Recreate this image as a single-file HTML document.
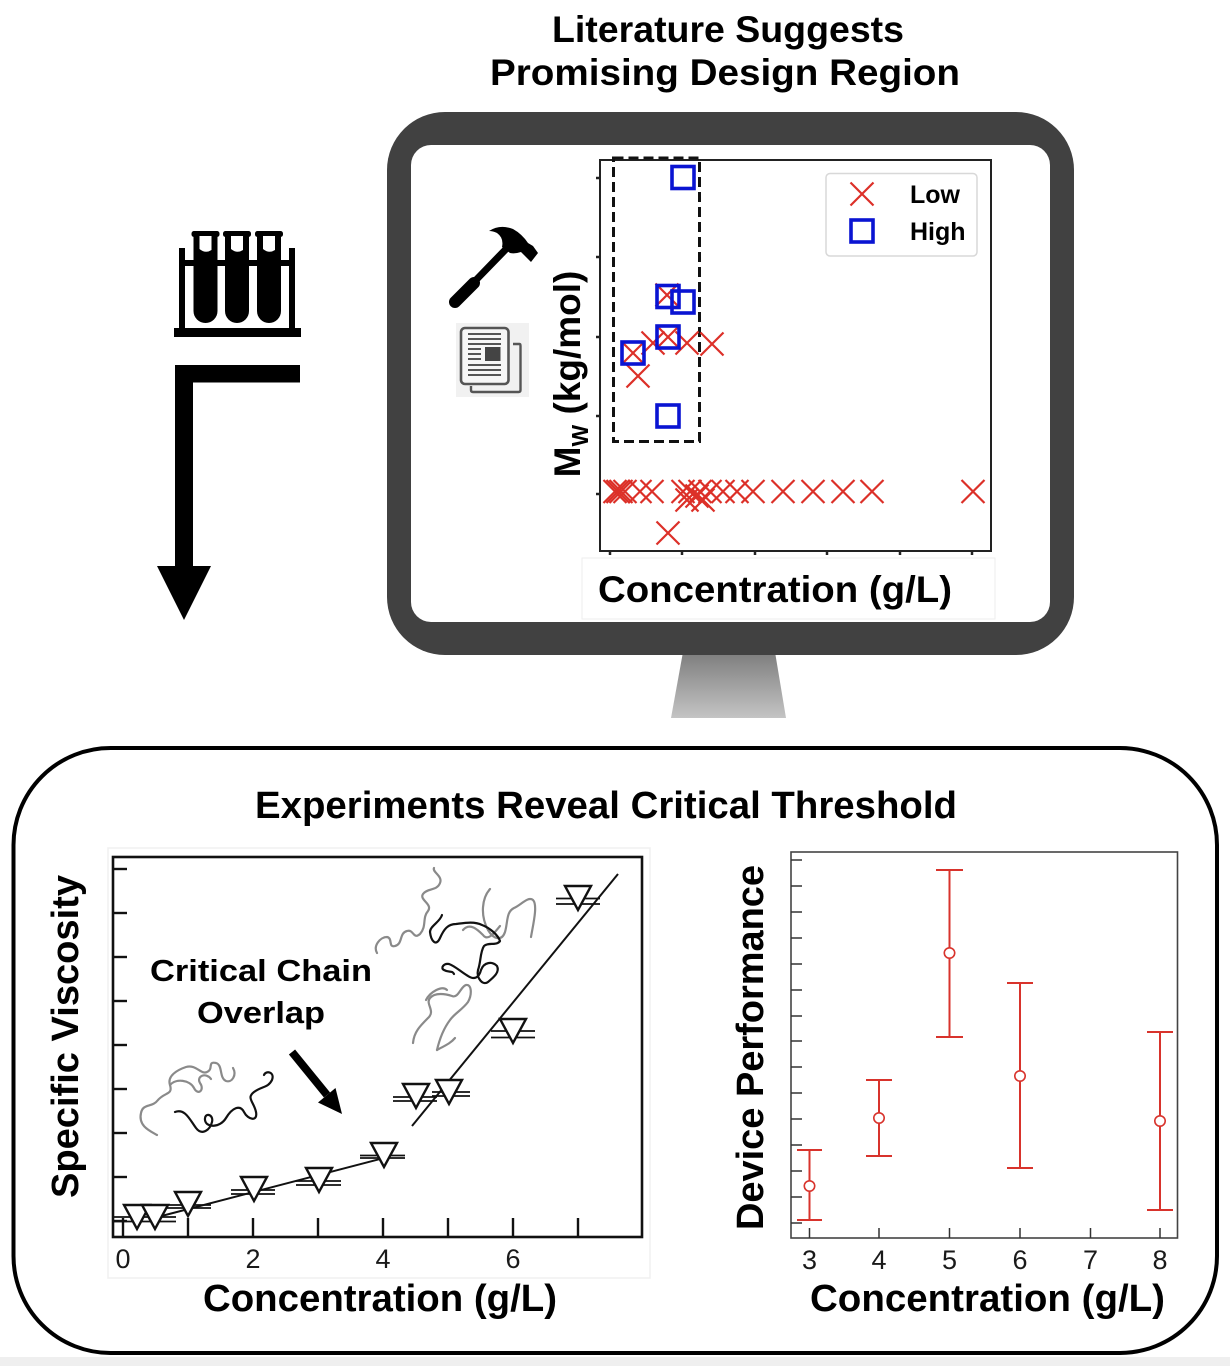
<!DOCTYPE html>
<html>
<head>
<meta charset="utf-8">
<style>
  html,body{margin:0;padding:0;background:#fff;}
  svg{display:block;}
  text{font-family:"Liberation Sans", Arial, sans-serif;}
</style>
</head>
<body>
<svg width="1230" height="1366" viewBox="0 0 1230 1366" xmlns="http://www.w3.org/2000/svg">
  <defs>
    <linearGradient id="stand" x1="0" y1="0" x2="0" y2="1">
      <stop offset="0" stop-color="#7d7d7d"/>
      <stop offset="1" stop-color="#c4c4c4"/>
    </linearGradient>
    <g id="x"><path d="M-11.5,-11.5 L11.5,11.5 M-11.5,11.5 L11.5,-11.5" stroke="#dc3028" stroke-width="2.2" fill="none"/></g>
    <g id="sq"><rect x="-11" y="-11" width="22" height="22" stroke="#0a14d2" stroke-width="3.6" fill="none"/></g>
    <g id="tri"><path d="M-13,-11 L13,-11 L0,13 Z" fill="#fff" stroke="#111" stroke-width="2.4" stroke-linejoin="miter"/></g>
  </defs>

  <!-- bottom gray strip -->
  <rect x="0" y="1357" width="1230" height="9" fill="#efefef"/>

  <!-- ===== Top titles ===== -->
  <text x="728" y="42" font-size="37" font-weight="bold" text-anchor="middle" textLength="352" lengthAdjust="spacingAndGlyphs">Literature Suggests</text>
  <text x="725" y="85" font-size="37" font-weight="bold" text-anchor="middle" textLength="470" lengthAdjust="spacingAndGlyphs">Promising Design Region</text>

  <!-- ===== Test tube rack ===== -->
  <g fill="#000">
    <rect x="174" y="328" width="127" height="9"/>
    <rect x="179" y="248" width="6" height="82"/>
    <rect x="289" y="248" width="6" height="82"/>
    <rect x="179" y="260" width="116" height="6"/>
    <g>
      <rect x="191.5" y="231" width="28" height="6" rx="2.5"/>
      <path d="M193.5,236 L217.5,236 L217.5,311 A12,12 0 0 1 193.5,311 Z"/>
      <path d="M199.5,236 L211.5,236 L211.5,250 Q205.5,254 199.5,249 Z" fill="#fff"/>
    </g>
    <g>
      <rect x="223" y="231" width="28" height="6" rx="2.5"/>
      <path d="M225,236 L249,236 L249,311 A12,12 0 0 1 225,311 Z"/>
      <path d="M231,236 L243,236 L243,250 Q237,254 231,249 Z" fill="#fff"/>
    </g>
    <g>
      <rect x="255" y="231" width="28" height="6" rx="2.5"/>
      <path d="M257,236 L281,236 L281,311 A12,12 0 0 1 257,311 Z"/>
      <path d="M263,236 L275,236 L275,250 Q269,254 263,249 Z" fill="#fff"/>
    </g>
  </g>

  <!-- ===== L arrow ===== -->
  <g fill="#000">
    <rect x="175" y="365" width="125" height="17.5"/>
    <rect x="175" y="365" width="18" height="203"/>
    <path d="M157,566 L211,566 L184,620 Z"/>
  </g>

  <!-- ===== Monitor ===== -->
  <path d="M683,652 L775,652 L786,718 L671,718 Z" fill="url(#stand)"/>
  <rect x="387" y="112" width="687" height="543" rx="58" ry="58" fill="#414141"/>
  <rect x="411" y="145" width="639" height="477" rx="20" ry="20" fill="#fff"/>

  <!-- Hammer -->
  <g fill="#000">
    <path d="M508,247 L476,280" stroke="#000" stroke-width="7" stroke-linecap="round"/>
    <path d="M474,283 L455,302" stroke="#000" stroke-width="12" stroke-linecap="round"/>
    <path d="M489,231 Q500,224 513,229 Q522,234 528,243 L533,246 L538,253 L531,262 L525,256 L521,252 Q515,254 510,253 L502,247 Q504,238 497,233 Q493,231 489,231 Z"/>
  </g>

  <!-- Document icon -->
  <rect x="456" y="323" width="73" height="74" fill="#f1f1f1"/>
  <path d="M513,344 L519.5,344 Q520.5,344 520.5,346 L520.5,390 Q520.5,392 518.5,392 L473,392 Q471,392 471,390 L471,386" fill="none" stroke="#555" stroke-width="2.4"/>
  <rect x="461" y="328" width="47.5" height="56" rx="4" fill="#f6f6f6" stroke="#555" stroke-width="2.6"/>
  <g stroke="#555" stroke-width="2">
    <line x1="468" y1="334" x2="501" y2="334"/>
    <line x1="468" y1="339" x2="501" y2="339"/>
    <line x1="468" y1="344" x2="501" y2="344"/>
    <line x1="468" y1="349" x2="481" y2="349"/>
    <line x1="468" y1="354" x2="481" y2="354"/>
    <line x1="468" y1="359" x2="481" y2="359"/>
    <line x1="468" y1="365" x2="501" y2="365"/>
    <line x1="468" y1="370" x2="501" y2="370"/>
    <line x1="468" y1="375" x2="501" y2="375"/>
  </g>
  <rect x="485" y="347" width="15.5" height="14" fill="#444"/>

  <!-- Monitor chart -->
  <rect x="600" y="160" width="391" height="391" fill="#fff" stroke="#222" stroke-width="2"/>
  <g stroke="#222" stroke-width="2.5">
    <line x1="596" y1="178" x2="600" y2="178"/>
    <line x1="596" y1="257" x2="600" y2="257"/>
    <line x1="596" y1="337" x2="600" y2="337"/>
    <line x1="596" y1="416" x2="600" y2="416"/>
    <line x1="596" y1="494" x2="600" y2="494"/>
    <line x1="610" y1="551" x2="610" y2="555"/>
    <line x1="682" y1="551" x2="682" y2="555"/>
    <line x1="755" y1="551" x2="755" y2="555"/>
    <line x1="827" y1="551" x2="827" y2="555"/>
    <line x1="900" y1="551" x2="900" y2="555"/>
    <line x1="972" y1="551" x2="972" y2="555"/>
  </g>
  <rect x="613.5" y="158" width="86" height="283.5" fill="none" stroke="#111" stroke-width="3" stroke-dasharray="10,5"/>

  <!-- red X markers -->
  <g>
    <use href="#x" x="667" y="295"/>
    <use href="#x" x="653" y="343"/>
    <use href="#x" x="668" y="337"/>
    <use href="#x" x="687" y="343"/>
    <use href="#x" x="712" y="344"/>
    <use href="#x" x="633" y="353"/>
    <use href="#x" x="638" y="376"/>
    <use href="#x" x="668" y="533"/>
    <use href="#x" x="615" y="491.5"/>
    <use href="#x" x="618" y="491.5"/>
    <use href="#x" x="621" y="491.5"/>
    <use href="#x" x="625" y="491.5"/>
    <use href="#x" x="640" y="491.5"/>
    <use href="#x" x="652" y="491.5"/>
    <use href="#x" x="683" y="491.5"/>
    <use href="#x" x="690" y="491.5"/>
    <use href="#x" x="700" y="491.5"/>
    <use href="#x" x="710" y="491.5"/>
    <use href="#x" x="723" y="491.5"/>
    <use href="#x" x="737" y="491.5"/>
    <use href="#x" x="753" y="491.5"/>
    <use href="#x" x="783" y="491.5"/>
    <use href="#x" x="813" y="491.5"/>
    <use href="#x" x="843" y="491.5"/>
    <use href="#x" x="872" y="491.5"/>
    <use href="#x" x="973" y="491.5"/>
    <use href="#x" x="687" y="500"/>
    <use href="#x" x="703" y="500"/>
    <use href="#x" x="697" y="496"/>
  </g>
  <!-- blue squares -->
  <g>
    <use href="#sq" x="683" y="177.5"/>
    <use href="#sq" x="668" y="296.5"/>
    <use href="#sq" x="683" y="302"/>
    <use href="#sq" x="668" y="337"/>
    <use href="#sq" x="633" y="353"/>
    <use href="#sq" x="668" y="416"/>
  </g>

  <!-- legend -->
  <rect x="826" y="173.5" width="151" height="82.5" rx="4" fill="#fff" stroke="#d8d8d8" stroke-width="1.5"/>
  <use href="#x" x="862" y="194"/>
  <use href="#sq" x="862" y="231"/>
  <text x="910" y="203" font-size="25" font-weight="bold">Low</text>
  <text x="910" y="240" font-size="25" font-weight="bold">High</text>

  <!-- Mw label -->
  <text transform="translate(580,374) rotate(-90)" font-size="37" font-weight="bold" text-anchor="middle">M<tspan font-size="23" dy="8">W</tspan><tspan dy="-8"> (kg/mol)</tspan></text>

  <!-- x label box -->
  <rect x="582" y="558" width="413" height="61" fill="#fff" stroke="#eeeeee" stroke-width="1"/>
  <text x="775" y="602" font-size="37" font-weight="bold" text-anchor="middle" textLength="354" lengthAdjust="spacingAndGlyphs">Concentration (g/L)</text>

  <!-- ===== Bottom panel ===== -->
  <rect x="13.5" y="748" width="1203.5" height="605" rx="97" ry="97" fill="none" stroke="#000" stroke-width="4"/>
  <text x="606" y="818" font-size="38" font-weight="bold" text-anchor="middle" textLength="702" lengthAdjust="spacingAndGlyphs">Experiments Reveal Critical Threshold</text>

  <!-- ===== Left chart ===== -->
  <rect x="108" y="848" width="542" height="430" fill="#fff" stroke="#f0f0f0" stroke-width="1.5"/>
  <rect x="113" y="857" width="529" height="380" fill="#fff" stroke="#111" stroke-width="2.6"/>
  <g stroke="#111" stroke-width="2.4">
    <line x1="113" y1="869" x2="127" y2="869"/>
    <line x1="113" y1="913" x2="127" y2="913"/>
    <line x1="113" y1="957" x2="127" y2="957"/>
    <line x1="113" y1="1001" x2="127" y2="1001"/>
    <line x1="113" y1="1045" x2="127" y2="1045"/>
    <line x1="113" y1="1089" x2="127" y2="1089"/>
    <line x1="113" y1="1133" x2="127" y2="1133"/>
    <line x1="113" y1="1177" x2="127" y2="1177"/>
    <line x1="113" y1="1221" x2="127" y2="1221"/>
    <line x1="123" y1="1218" x2="123" y2="1237"/>
    <line x1="188" y1="1218" x2="188" y2="1237"/>
    <line x1="253" y1="1218" x2="253" y2="1237"/>
    <line x1="318" y1="1218" x2="318" y2="1237"/>
    <line x1="383" y1="1218" x2="383" y2="1237"/>
    <line x1="448" y1="1218" x2="448" y2="1237"/>
    <line x1="513" y1="1218" x2="513" y2="1237"/>
    <line x1="578" y1="1218" x2="578" y2="1237"/>
  </g>
  <g font-size="27" fill="#1a1a1a" text-anchor="middle">
    <text x="123" y="1268">0</text>
    <text x="253" y="1268">2</text>
    <text x="383" y="1268">4</text>
    <text x="513" y="1268">6</text>
  </g>

  <!-- chains -->
  <g fill="none" stroke-width="2.2" stroke-linecap="round" stroke-linejoin="round">
    <path stroke="#8a8a8a" d="M157,1135 C150,1131 138,1126 141,1113 C143,1103 152,1108 158,1100 C165,1092 173,1095 170,1085 C167,1076 177,1070 186,1067 C196,1064 201,1075 207,1072 C214,1069 207,1061 216,1063 C223,1065 219,1078 226,1081 C232,1083 237,1075 233,1068"/>
    <path stroke="#8a8a8a" d="M170,1085 C176,1078 190,1080 194,1088 C198,1096 205,1090 200,1083 C196,1076 206,1072 211,1079"/>
    <path stroke="#111" d="M175,1112 C185,1108 190,1120 196,1128 C202,1136 210,1130 212,1122 C214,1114 204,1112 205,1120 C206,1128 220,1128 226,1118 C232,1108 240,1104 244,1112 C248,1120 258,1122 256,1112 C254,1102 246,1098 254,1092 C262,1086 268,1088 272,1080 C275,1072 266,1070 264,1075"/>

    <path stroke="#8a8a8a" d="M377,953 C373,946 380,937 387,937 C393,938 388,948 395,946 C403,944 399,933 407,931 C414,929 413,940 420,934 C427,926 422,918 428,911 C433,904 419,900 423,894 C427,888 437,891 440,883 C443,876 432,872 434,868"/>
    <path stroke="#8a8a8a" d="M490,889 C482,898 480,915 488,930 C494,940 502,941 505,932 C508,922 506,912 514,908 C521,905 528,896 533,900 C538,905 533,925 531,937"/>
    <path stroke="#8a8a8a" d="M463,930 C470,922 478,930 483,935 C488,942 495,932 500,926"/>
    <path stroke="#8a8a8a" d="M413,1043 C414,1032 420,1026 428,1018 C436,1011 425,1004 430,998 C435,992 446,994 452,996 C458,999 461,986 466,985 C472,984 472,995 468,1002 C462,1010 455,1013 450,1020 C444,1028 440,1037 437,1050"/>
    <path stroke="#8a8a8a" d="M437,1050 C444,1046 450,1044 455,1038"/>
    <path stroke="#8a8a8a" d="M426,1000 C430,992 442,985 447,990"/>
    <path stroke="#111" d="M442,915 C440,922 430,926 430,932 C431,941 436,947 440,938 C444,929 448,924 456,924 C464,923 474,921 482,925 C490,928 498,935 500,941 C497,946 488,942 484,946 C480,952 481,962 478,970 C476,978 483,986 488,982 C494,977 500,972 497,966 C492,961 484,962 481,970 C479,978 474,980 468,976 C461,972 455,966 449,964 C444,963 440,968 444,970 C449,973 452,970 454,974"/>
  </g>

  <!-- fit lines -->
  <g stroke="#111" stroke-width="2" fill="none">
    <line x1="150" y1="1219" x2="384" y2="1158"/>
    <line x1="412" y1="1126" x2="618" y2="874"/>
  </g>

  <!-- horizontal error bars -->
  <g stroke="#111" stroke-width="1.8">
    <line x1="112" y1="1217" x2="176" y2="1217"/><line x1="112" y1="1221.5" x2="176" y2="1221.5"/>
    <line x1="162" y1="1205" x2="211" y2="1205"/><line x1="162" y1="1208" x2="211" y2="1208"/>
    <line x1="231" y1="1190" x2="275" y2="1190"/><line x1="231" y1="1194" x2="275" y2="1194"/>
    <line x1="296" y1="1181" x2="341" y2="1181"/><line x1="296" y1="1185" x2="341" y2="1185"/>
    <line x1="360" y1="1155.5" x2="405" y2="1155.5"/><line x1="360" y1="1158" x2="405" y2="1158"/>
    <line x1="393" y1="1097" x2="437" y2="1097"/><line x1="393" y1="1101" x2="437" y2="1101"/>
    <line x1="432" y1="1092" x2="470" y2="1092"/><line x1="432" y1="1096" x2="470" y2="1096"/>
    <line x1="491" y1="1031" x2="535" y2="1031"/><line x1="491" y1="1037.5" x2="535" y2="1037.5"/>
    <line x1="556" y1="898.5" x2="600" y2="898.5"/><line x1="556" y1="904" x2="600" y2="904"/>
  </g>

  <!-- triangles -->
  <g>
    <use href="#tri" x="137" y="1216"/>
    <use href="#tri" x="155" y="1216"/>
    <use href="#tri" x="188" y="1203"/>
    <use href="#tri" x="254" y="1188"/>
    <use href="#tri" x="319" y="1179"/>
    <use href="#tri" x="384" y="1154"/>
    <use href="#tri" x="416" y="1095"/>
    <use href="#tri" x="449" y="1091"/>
    <use href="#tri" x="513" y="1030"/>
    <use href="#tri" x="578" y="897"/>
  </g>

  <!-- annotation -->
  <text x="261" y="981" font-size="31" font-weight="bold" text-anchor="middle" textLength="222" lengthAdjust="spacingAndGlyphs">Critical Chain</text>
  <text x="261" y="1023" font-size="31" font-weight="bold" text-anchor="middle" textLength="128" lengthAdjust="spacingAndGlyphs">Overlap</text>
  <line x1="292" y1="1052" x2="327" y2="1095" stroke="#000" stroke-width="8"/>
  <path d="M342,1114 L318,1102.5 L335.5,1088 Z" fill="#000"/>

  <text transform="translate(78,1036.5) rotate(-90)" font-size="38" font-weight="bold" text-anchor="middle" textLength="323" lengthAdjust="spacingAndGlyphs">Specific Viscosity</text>
  <text x="380" y="1311" font-size="38" font-weight="bold" text-anchor="middle" textLength="354" lengthAdjust="spacingAndGlyphs">Concentration (g/L)</text>

  <!-- ===== Right chart ===== -->
  <rect x="791" y="852" width="386.5" height="386" fill="#fff" stroke="#444" stroke-width="1.6"/>
  <g stroke="#333" stroke-width="1.5">
    <line x1="791" y1="860" x2="802" y2="860"/>
    <line x1="791" y1="886" x2="802" y2="886"/>
    <line x1="791" y1="912" x2="802" y2="912"/>
    <line x1="791" y1="938" x2="802" y2="938"/>
    <line x1="791" y1="964" x2="802" y2="964"/>
    <line x1="791" y1="990" x2="802" y2="990"/>
    <line x1="791" y1="1016" x2="802" y2="1016"/>
    <line x1="791" y1="1041" x2="802" y2="1041"/>
    <line x1="791" y1="1067" x2="802" y2="1067"/>
    <line x1="791" y1="1093" x2="802" y2="1093"/>
    <line x1="791" y1="1119" x2="802" y2="1119"/>
    <line x1="791" y1="1145" x2="802" y2="1145"/>
    <line x1="791" y1="1171" x2="802" y2="1171"/>
    <line x1="791" y1="1197" x2="802" y2="1197"/>
    <line x1="791" y1="1223" x2="802" y2="1223"/>
    <line x1="809.5" y1="1228" x2="809.5" y2="1238"/>
    <line x1="879" y1="1228" x2="879" y2="1238"/>
    <line x1="949.5" y1="1228" x2="949.5" y2="1238"/>
    <line x1="1020" y1="1228" x2="1020" y2="1238"/>
    <line x1="1090.5" y1="1228" x2="1090.5" y2="1238"/>
    <line x1="1160" y1="1228" x2="1160" y2="1238"/>
  </g>
  <g stroke="#d8332c" stroke-width="2" fill="#fff">
    <line x1="809.5" y1="1150" x2="809.5" y2="1220"/>
    <line x1="797" y1="1150" x2="822" y2="1150"/><line x1="797" y1="1220" x2="822" y2="1220"/>
    <circle cx="809.5" cy="1186" r="5.2" stroke-width="1.6"/>

    <line x1="879" y1="1080" x2="879" y2="1156"/>
    <line x1="866" y1="1080" x2="892" y2="1080"/><line x1="866" y1="1156" x2="892" y2="1156"/>
    <circle cx="879" cy="1118" r="5.2" stroke-width="1.6"/>

    <line x1="949.5" y1="870" x2="949.5" y2="1037"/>
    <line x1="936" y1="870" x2="963" y2="870"/><line x1="936" y1="1037" x2="963" y2="1037"/>
    <circle cx="949.5" cy="953" r="5.2" stroke-width="1.6"/>

    <line x1="1020" y1="983" x2="1020" y2="1168"/>
    <line x1="1007" y1="983" x2="1033" y2="983"/><line x1="1007" y1="1168" x2="1033" y2="1168"/>
    <circle cx="1020" cy="1076" r="5.2" stroke-width="1.6"/>

    <line x1="1160" y1="1032" x2="1160" y2="1210"/>
    <line x1="1147" y1="1032" x2="1173" y2="1032"/><line x1="1147" y1="1210" x2="1173" y2="1210"/>
    <circle cx="1160" cy="1121" r="5.2" stroke-width="1.6"/>
  </g>
  <g font-size="27" fill="#1a1a1a" text-anchor="middle">
    <text x="809.5" y="1269">3</text>
    <text x="879" y="1269">4</text>
    <text x="949.5" y="1269">5</text>
    <text x="1020" y="1269">6</text>
    <text x="1090.5" y="1269">7</text>
    <text x="1160" y="1269">8</text>
  </g>
  <text transform="translate(763,1047.5) rotate(-90)" font-size="38" font-weight="bold" text-anchor="middle" textLength="365" lengthAdjust="spacingAndGlyphs">Device Performance</text>
  <text x="987.5" y="1311" font-size="38" font-weight="bold" text-anchor="middle" textLength="355" lengthAdjust="spacingAndGlyphs">Concentration (g/L)</text>
</svg>
</body>
</html>
